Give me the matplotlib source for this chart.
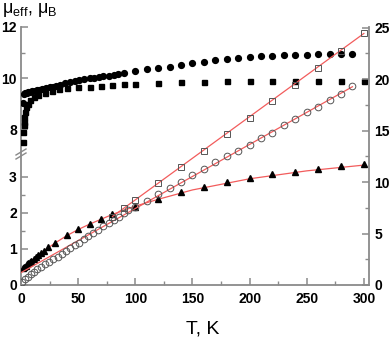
import numpy as np
import matplotlib
matplotlib.use("Agg")
import matplotlib.pyplot as plt
from matplotlib.ticker import FixedLocator, NullFormatter

plt.rcParams['font.family'] = ['Liberation Sans', 'DejaVu Sans']

# ---- data (left axis, upper part: mu_eff) ----
T_fc = [1.5, 2.5, 3.5, 5, 6.5, 8, 10, 12, 14, 16, 18, 20, 22, 25, 28, 31, 34, 38.6, 43, 47.4,
        51, 55, 60, 64, 68, 72, 77, 81, 85, 90, 100, 110, 120, 130, 140, 150, 160, 170, 180,
        190, 200, 210, 220, 230, 240, 250, 260, 270, 280, 290]
mu_fc = [9.03, 9.38, 9.40, 9.42, 9.44, 9.46, 9.48, 9.50, 9.52, 9.54, 9.56, 9.58, 9.60, 9.63, 9.66,
         9.69, 9.73, 9.79, 9.83, 9.88, 9.92, 9.96, 9.99, 10.01, 10.04, 10.07, 10.09, 10.12, 10.14,
         10.18, 10.27, 10.34, 10.40, 10.45, 10.51, 10.58, 10.63, 10.70, 10.76, 10.80, 10.84, 10.85,
         10.87, 10.89, 10.91, 10.92, 10.93, 10.94, 10.95, 10.95]

T_fs = [1.6, 1.8, 2.2, 2.6, 3, 3.7, 4.5, 6, 8, 11, 15, 21, 27, 33, 40, 50, 60, 70, 80, 90,
        100, 120, 140, 160, 180, 200, 220, 240, 260, 280, 300]
mu_fs = [7.5, 7.9, 8.16, 8.29, 8.48, 8.68, 8.85, 9.0, 9.14, 9.24, 9.33, 9.42, 9.5, 9.58, 9.6,
         9.66, 9.66, 9.70, 9.73, 9.75, 9.76, 9.82, 9.83, 9.86, 9.88, 9.88, 9.90, 9.90, 9.90,
         9.90, 9.90]

# ---- data (left axis, lower part: triangles) ----
T_tri = [2, 3, 4, 5, 6.4, 8, 9, 11, 13, 15, 17.5, 20, 24, 30, 40, 50, 60, 70, 80, 100,
         120, 140, 160, 180, 200, 220, 240, 260, 280, 300]
v_tri = [0.46, 0.50, 0.53, 0.57, 0.60, 0.65, 0.68, 0.72, 0.77, 0.83, 0.88, 0.95, 1.06, 1.18,
         1.39, 1.55, 1.69, 1.82, 1.96, 2.17, 2.38, 2.58, 2.71, 2.85, 2.96, 3.07, 3.15, 3.22,
         3.30, 3.35]
T_tri_fit = [0.5, 2, 5, 10, 20, 30, 40, 50, 60, 80, 100, 120, 150, 200, 250, 300]
v_tri_fit = [0.38, 0.45, 0.56, 0.70, 0.95, 1.17, 1.37, 1.54, 1.69, 1.96, 2.19, 2.38, 2.64,
             2.95, 3.17, 3.33]

# ---- data (right axis) ----
T_oc = [1.1, 3.5, 5.9, 8.5, 11.4, 14.3, 17.5, 21, 24.6, 28.3, 32.2, 35.7, 39.5, 43, 47.4, 51,
        55, 59, 63.4, 67.8, 72, 76.6, 81, 85.4, 89.7, 94, 100, 110, 120, 130, 140, 150, 160,
        170, 180, 190, 200, 210, 220, 230, 240, 250, 260, 270, 280, 290]
v_oc = [0.32, 0.58, 0.81, 1.07, 1.29, 1.53, 1.78, 2.04, 2.27, 2.50, 2.76, 3.00, 3.30, 3.55,
        3.85, 4.12, 4.42, 4.72, 5.05, 5.38, 5.70, 6.03, 6.35, 6.65, 6.97, 7.25, 7.56, 8.20,
        8.85, 9.40, 10.00, 10.70, 11.28, 11.94, 12.48, 12.97, 13.60, 14.23, 14.80, 15.50,
        16.10, 16.76, 17.28, 18.00, 18.55, 19.36]
T_oc_fit = [0, 290]
v_oc_fit = [1.2, 19.25]

T_os = [80, 90, 100, 120, 140, 160, 180, 200, 220, 240, 260, 280, 300]
v_os = [6.65, 7.45, 8.27, 9.89, 11.48, 13.03, 14.66, 16.25, 17.90, 19.46, 21.07, 22.76, 24.42]
T_os_fit = [80, 300]
v_os_fit = [6.65, 24.42]

# ---- broken left scale ----
L, U = 3.45, 7.1
pL, pU = 124.0, 133.0
a = 36.0
b = 25.5

def fwd(v):
    v = np.asarray(v, dtype=float)
    return np.where(v <= L, v * a,
                    np.where(v >= U, pU + (v - U) * b, pL + (v - L) * (pU - pL) / (U - L)))

def inv(p):
    p = np.asarray(p, dtype=float)
    return np.where(p <= pL, p / a,
                    np.where(p >= pU, U + (p - pU) / b, L + (p - pL) * (U - L) / (pU - pL)))

W, H = 392, 340
fig = plt.figure(figsize=(W / 100, H / 100), dpi=100)
ax = fig.add_axes([21 / W, 1 - 285 / H, (369 - 21) / W, (285 - 27) / H])
ax2 = ax.twinx()

spine_c = '#8a8a8a'
red = '#f25c5c'

ax.set_yscale('function', functions=(fwd, inv))
ax.set_ylim(0, 12)
ax.set_xlim(0, 304.5)
ax2.set_ylim(0, 25.05)

# red fit lines
ax.plot(T_tri_fit, v_tri_fit, color=red, lw=0.9, zorder=2)
ax2.plot(T_oc_fit, v_oc_fit, color=red, lw=0.9, zorder=2)
ax2.plot(T_os_fit, v_os_fit, color=red, lw=0.9, zorder=2)

# markers
ax.plot(T_fc, mu_fc, 'o', color='black', ms=4.2, mec='black', zorder=3)
ax.plot(T_fs, mu_fs, 's', color='black', ms=3.6, mec='black', zorder=3)
ax.plot(T_tri, v_tri, '^', color='black', ms=4.4, mec='black', zorder=3)
ax2.plot(T_oc, v_oc, 'o', mfc='none', mec='#555555', mew=0.7, ms=4.8, zorder=3)
ax2.plot(T_os, v_os, 's', mfc='none', mec='#555555', mew=0.7, ms=4.4, zorder=3)

# spines
for s in ['top', 'right']:
    ax.spines[s].set_visible(False)
for s in ['top', 'left', 'bottom']:
    ax2.spines[s].set_visible(False)
ax.spines['left'].set_color(spine_c)
ax.spines['bottom'].set_color(spine_c)
ax2.spines['right'].set_color(spine_c)
for s in [ax.spines['left'], ax.spines['bottom'], ax2.spines['right']]:
    s.set_linewidth(1.3)

# ticks
ax.xaxis.set_major_locator(FixedLocator([0, 50, 100, 150, 200, 250, 300]))
ax.xaxis.set_minor_locator(FixedLocator([25, 75, 125, 175, 225, 275]))
ax.yaxis.set_major_locator(FixedLocator([0, 1, 2, 3, 8, 10, 12]))
ax.yaxis.set_minor_locator(FixedLocator([0.5, 1.5, 2.5, 9, 11]))
ax.yaxis.set_minor_formatter(NullFormatter())
ax.set_yticklabels(['0', '1', '2', '3', '8', '10', '12'])
ax2.yaxis.set_major_locator(FixedLocator([0, 5, 10, 15, 20, 25]))
ax2.yaxis.set_minor_locator(FixedLocator([2.5, 7.5, 12.5, 17.5, 22.5]))

ax.tick_params(axis='x', which='major', direction='in', length=5, width=1.1, color=spine_c, pad=5,
               labelsize=10)
ax.tick_params(axis='x', which='minor', direction='in', length=3, width=1.0, color=spine_c)
ax.tick_params(axis='y', which='major', direction='in', length=5, width=1.1, color=spine_c, pad=3,
               labelsize=10)
ax.tick_params(axis='y', which='minor', direction='in', length=3, width=1.0, color=spine_c)
ax2.tick_params(axis='y', which='major', direction='in', length=5, width=1.1, color=spine_c, pad=4,
                labelsize=10)
ax2.tick_params(axis='y', which='minor', direction='in', length=3, width=1.0, color=spine_c)
for lab in ax.get_xticklabels() + ax.get_yticklabels() + ax2.get_yticklabels():
    lab.set_fontweight('bold')

# break marks on left axis
yb = (285 - 156) / (285 - 27)
dy = 3 / (285 - 27)
dx = 5 / (369 - 21)
for off in (0, 4 / (285 - 27)):
    ax.plot([-dx, dx], [yb + off - dy, yb + off + dy], transform=ax.transAxes,
            color=spine_c, lw=1.0, clip_on=False, zorder=5)

# labels
fig.text(203 / W, 1 - 329 / H, 'T, K', fontsize=14, ha='center', va='center')
fig.text(2 / W, 1 - 10 / H, 'μ$_{\\mathregular{eff}}$, μ$_{\\mathregular{B}}$', fontsize=13,
         ha='left', va='center')

fig.savefig('out.png', dpi=100)
